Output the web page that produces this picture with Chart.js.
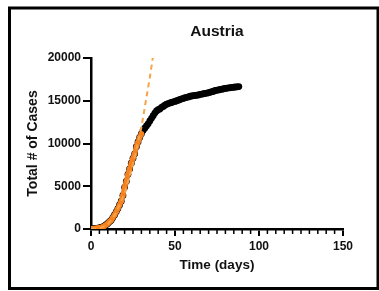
<!DOCTYPE html>
<html>
<head>
<meta charset="utf-8">
<script src="https://cdn.jsdelivr.net/npm/chart.js@4"></script>
<style>
  html, body { margin: 0; padding: 0; background: #fff; }
  #chart { display: block; }
</style>
</head>
<body>
<canvas id="chart" width="379" height="291"></canvas>
<script>
// cumulative cases, one value per day starting at day 0
const cases = [
  29, 41, 55, 79, 104, 131, 182, 246, 361, 504,
  655, 860, 1018, 1332, 1646, 2013, 2388, 2814, 3244, 3924,
  4876, 5560, 6398, 7029, 7697, 8271, 8788, 9618, 10180, 10711,
  11129, 11524, 11781, 12051, 12297, 12639, 12942, 13244, 13555, 13806,
  13945, 14041, 14226, 14336, 14476, 14595, 14671, 14749, 14795, 14873,
  14925, 15002, 15071, 15148, 15225, 15274, 15357, 15402, 15452, 15531,
  15558, 15597, 15621, 15650, 15684, 15752, 15774, 15833, 15871, 15882,
  15961, 15997, 16058, 16109, 16201, 16242, 16269, 16321, 16353, 16404,
  16436, 16486, 16503, 16539, 16557, 16591, 16610, 16628, 16655
];
// days highlighted in orange (growth phase)
const growthEnd = 30;
// dashed fit line
const fitDays = [0, 5, 10, 15, 20, 25, 30, 35, 38];
const fitCases = [0, 80, 500, 1900, 4200, 7600, 11900, 17700, 21600];
const xTicks = [0, 50, 100, 150];
const yTicks = [0, 5000, 10000, 15000, 20000];

const allPts = cases.map((c, i) => ({ x: i, y: c }));
const growthPts = allPts.slice(0, growthEnd + 1);
const fitPts = fitDays.map((d, i) => ({ x: d, y: fitCases[i] }));

const fontFam = "'Liberation Sans', Arial, sans-serif";
const ink = "#111";

const frame = {
  id: "frame",
  afterDraw(chart) {
    const ctx = chart.ctx;
    ctx.save();
    ctx.strokeStyle = "#000";
    ctx.lineWidth = 3;
    ctx.strokeRect(9.5, 8, 368.5, 280.5);
    // minor ticks on x every 5 days
    const xs = chart.scales.x;
    const y0 = chart.chartArea.bottom;
    ctx.lineWidth = 1.5;
    ctx.beginPath();
    for (let d = 5; d < 150; d += 5) {
      if (d % 50 === 0) continue;
      const px = xs.getPixelForValue(d);
      ctx.moveTo(px, y0);
      ctx.lineTo(px, y0 + 5);
    }
    ctx.stroke();
    ctx.restore();
  }
};

new Chart(document.getElementById("chart"), {
  type: "scatter",
  data: {
    datasets: [
      {
        data: fitPts,
        showLine: true,
        borderColor: "#f7a348",
        borderWidth: 2,
        borderDash: [5, 4],
        pointRadius: 0,
        order: 1
      },
      {
        data: growthPts,
        showLine: true,
        backgroundColor: "#f5821f",
        borderColor: "#f5821f",
        borderWidth: 5,
        pointRadius: 2.8,
        pointBorderWidth: 0,
        order: 2
      },
      {
        data: allPts,
        showLine: true,
        backgroundColor: "#000",
        borderColor: "#000",
        borderWidth: 4,
        pointRadius: 3.4,
        pointBorderWidth: 0,
        order: 3
      }
    ]
  },
  options: {
    responsive: false,
    animation: false,
    layout: { padding: { left: 14, right: 36, top: 20, bottom: 0 } },
    plugins: {
      legend: { display: false },
      tooltip: { enabled: false },
      title: {
        display: true,
        text: "Austria",
        fullSize: false,
        color: ink,
        font: { family: fontFam, size: 15.5, weight: "bold" },
        padding: { top: 2, bottom: 17.4 }
      }
    },
    scales: {
      x: {
        type: "linear",
        min: 0,
        max: 150,
        afterBuildTicks(s) { s.ticks = xTicks.map(v => ({ value: v })); },
        afterFit(s) { s.height = 62; },
        grid: { drawOnChartArea: false, drawTicks: true, tickLength: 7, color: "#000", lineWidth: 2 },
        border: { color: "#000", width: 2.5 },
        ticks: {
          color: ink,
          padding: 3,
          maxRotation: 0,
          callback: v => String(v),
          font: { family: fontFam, size: 12, weight: "bold" }
        },
        title: {
          display: true,
          text: "Time (days)",
          color: ink,
          font: { family: fontFam, size: 13.5, weight: "bold" },
          padding: { top: 0, bottom: 17.2 }
        }
      },
      y: {
        type: "linear",
        min: 0,
        max: 20000,
        afterBuildTicks(s) { s.ticks = yTicks.map(v => ({ value: v })); },
        afterFit(s) { s.width = 77; },
        grid: { drawOnChartArea: false, drawTicks: true, tickLength: 8, color: "#000", lineWidth: 2 },
        border: { color: "#000", width: 2.5 },
        ticks: {
          color: ink,
          padding: 2,
          callback: v => String(v),
          font: { family: fontFam, size: 12, weight: "bold" }
        },
        title: {
          display: true,
          text: "Total # of Cases",
          color: ink,
          font: { family: fontFam, size: 14, weight: "bold" },
          padding: { top: 10.6, bottom: 0 }
        }
      }
    }
  },
  plugins: [frame]
});
</script>
</body>
</html>
